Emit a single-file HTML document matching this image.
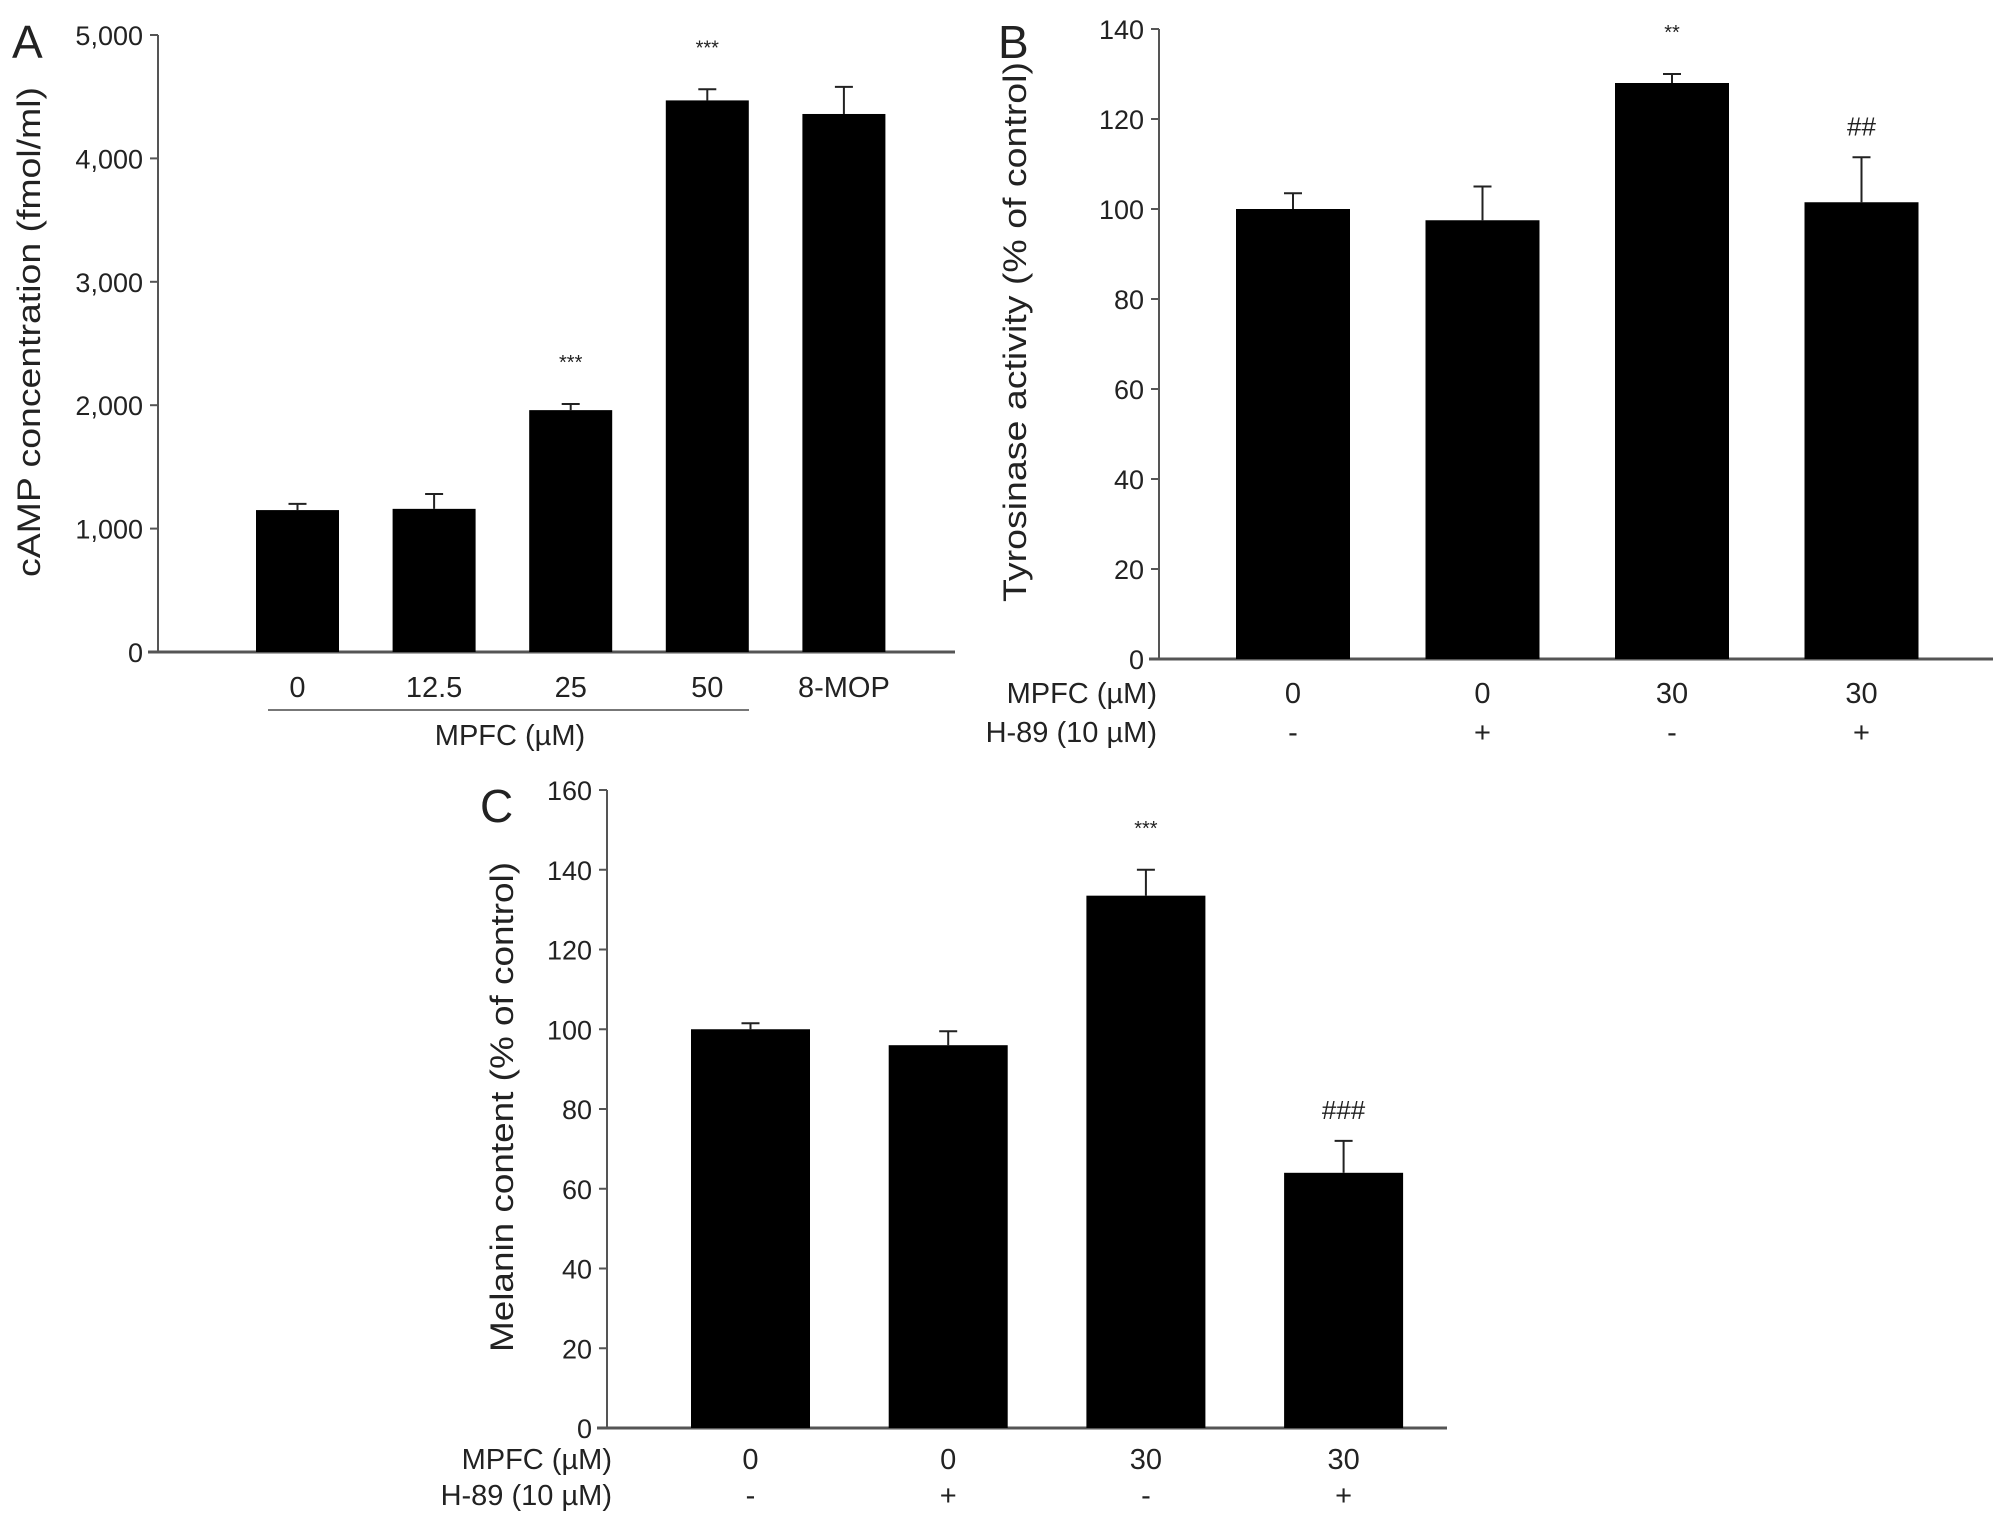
<!DOCTYPE html>
<html><head><meta charset="utf-8"><style>
html,body{margin:0;padding:0;background:#fff;}
svg{display:block;font-family:"Liberation Sans",Arial,sans-serif;fill:#222;}
</style></head><body>
<svg id="fig" width="2008" height="1526" viewBox="0 0 2008 1526" xmlns="http://www.w3.org/2000/svg">
<text x="12" y="58" font-size="46">A</text>
<text x="998" y="58" font-size="46">B</text>
<text x="480" y="822" font-size="46">C</text>
<text transform="translate(40,332) rotate(-90)" text-anchor="middle" font-size="32" textLength="490" lengthAdjust="spacingAndGlyphs">cAMP concentration (fmol/ml)</text>
<text transform="translate(1026,332) rotate(-90)" text-anchor="middle" font-size="32" textLength="540" lengthAdjust="spacingAndGlyphs">Tyrosinase activity (% of control)</text>
<text transform="translate(513,1107) rotate(-90)" text-anchor="middle" font-size="32" textLength="490" lengthAdjust="spacingAndGlyphs">Melanin content (% of control)</text>
<text x="510" y="745" text-anchor="middle" font-size="29">MPFC (µM)</text>
<line x1="268" y1="710" x2="749" y2="710" stroke="#777" stroke-width="2"/>
<text x="1157" y="703" text-anchor="end" font-size="29">MPFC (µM)</text>
<text x="1157" y="742" text-anchor="end" font-size="29">H-89 (10 µM)</text>
<text x="612" y="1469" text-anchor="end" font-size="29">MPFC (µM)</text>
<text x="612" y="1505" text-anchor="end" font-size="29">H-89 (10 µM)</text>
</svg>
<script>
// Panel A
const catsA = ["0","12.5","25","50","8-MOP"];
const valsA = [1150,1160,1960,4470,4360];
const errA = [50,120,50,90,220];
const sigA = ["","","***","***",""];
const ticksA = [0,1000,2000,3000,4000,5000];
const tickLabA = ["0","1,000","2,000","3,000","4,000","5,000"];
// Panel B
const catsB = ["0","0","30","30"];
const h89B = ["-","+","-","+"];
const valsB = [100,97.5,128,101.5];
const errB = [3.5,7.5,2,10];
const sigB = ["","","**","##"];
const ticksB = [0,20,40,60,80,100,120,140];
// Panel C
const catsC = ["0","0","30","30"];
const h89C = ["-","+","-","+"];
const valsC = [100,96,133.5,64];
const errC = [1.5,3.5,6.5,8];
const sigC = ["","","***","###"];
const ticksC = [0,20,40,60,80,100,120,140,160];

const NS="http://www.w3.org/2000/svg";
const svg=document.getElementById('fig');
function mk(tag,attrs,txt){const e=document.createElementNS(NS,tag);for(const k in attrs)e.setAttribute(k,attrs[k]);if(txt!==undefined)e.textContent=txt;svg.appendChild(e);return e;}

function panel(p){
  const y=v=>p.y0-(v-p.vmin)/(p.vmax-p.vmin)*(p.y0-p.ytop);
  const xc=i=>p.firstC+i*p.step;
  let e;
  e=mk('line',{x1:p.ax,y1:p.ytop,x2:p.ax,y2:p.y0,stroke:'#555','stroke-width':2});
  
  
  e=mk('line',{x1:p.ax-10,y1:p.y0,x2:p.axEnd,y2:p.y0,stroke:'#555','stroke-width':3});
  
  
  p.ticks.forEach((t,i)=>{
    e=mk('line',{x1:p.ax-8,y1:y(t),x2:p.ax,y2:y(t),stroke:'#555','stroke-width':2});
    
    
    e=mk('text',{x:p.ax-15,y:y(t)+10,'text-anchor':'end','font-size':27},p.tickLab[i]);
    
    
  });
  p.vals.forEach((v,i)=>{
    const c=xc(i), top=y(v), et=y(v+p.err[i]);
    e=mk('line',{x1:c,y1:top,x2:c,y2:et,stroke:'#222','stroke-width':2});
    
    
    e=mk('line',{x1:c-9,y1:et,x2:c+9,y2:et,stroke:'#222','stroke-width':2});
    
    
    e=mk('rect',{x:c-p.bw/2,y:top,width:p.bw,height:p.y0-top,fill:'#000'});
    
    
    if(p.sig[i]){
      const isHash=p.sig[i][0]==='#';
      e=mk('text',{x:c,y:et-(isHash?22:35),'text-anchor':'middle','font-size':isHash?26:20},p.sig[i]);
      
      
    }
    e=mk('text',{x:c,y:p.labY,'text-anchor':'middle','font-size':29},p.cats[i]);
    
    
    if(p.h89){
      e=mk('text',{x:c,y:p.labY2,'text-anchor':'middle','font-size':29},p.h89[i]);
      
      
    }
  });
}
panel({id:'a',ax:158,axEnd:955,ytop:35,y0:652,vmin:0,vmax:5000,firstC:297.5,step:136.6,bw:83,
  vals:valsA,err:errA,sig:sigA,cats:catsA,ticks:ticksA,tickLab:tickLabA,labY:697});
panel({id:'b',ax:1159,axEnd:1993,ytop:29,y0:659,vmin:0,vmax:140,firstC:1293,step:189.5,bw:114,
  vals:valsB,err:errB,sig:sigB,cats:catsB,ticks:ticksB,tickLab:ticksB.map(String),labY:703,h89:h89B,labY2:742});
panel({id:'c',ax:607,axEnd:1447,ytop:790,y0:1428,vmin:0,vmax:160,firstC:750.5,step:197.7,bw:119,
  vals:valsC,err:errC,sig:sigC,cats:catsC,ticks:ticksC,tickLab:ticksC.map(String),labY:1469,h89:h89C,labY2:1505});
</script>
</body></html>
